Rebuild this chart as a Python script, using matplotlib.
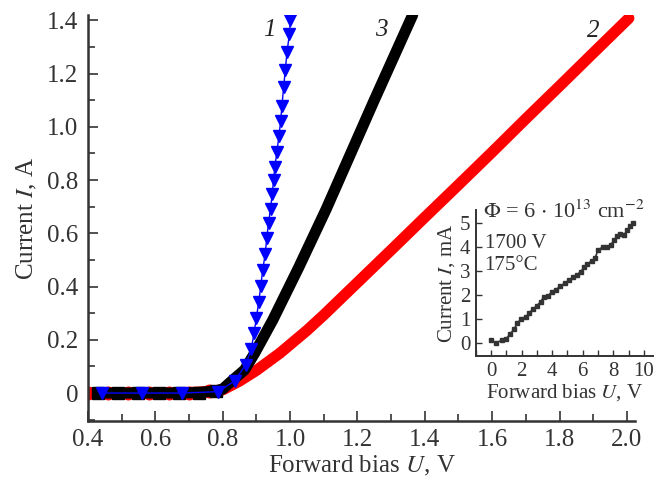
import numpy as np
import matplotlib
matplotlib.use("Agg")
import matplotlib.pyplot as plt
from matplotlib.ticker import MultipleLocator

plt.rcParams['font.family'] = ['Liberation Serif', 'DejaVu Serif']
plt.rcParams['mathtext.fontset'] = 'stix'

# curve 1 (blue triangles)
u1 = [0.441, 0.559, 0.678, 0.786, 0.836, 0.868, 0.885, 0.893, 0.900, 0.907, 0.913, 0.919,
      0.926, 0.931, 0.936, 0.942, 0.947, 0.951, 0.955, 0.961, 0.967, 0.972, 0.976, 0.981,
      0.986, 0.991, 0.998, 1.001]
i1 = [0, 0, 0, 0.005, 0.046, 0.106, 0.166, 0.225, 0.282, 0.342, 0.401, 0.464,
      0.521, 0.583, 0.638, 0.693, 0.747, 0.800, 0.850, 0.907, 0.965, 1.020, 1.080, 1.150,
      1.215, 1.282, 1.347, 1.401]

# curve 2 (red circles)
u2 = [0.40, 0.46, 0.52, 0.58, 0.64, 0.70, 0.76, 0.80, 0.85, 0.90, 0.97, 1.05, 1.10, 1.20,
      1.30, 1.40, 1.50, 1.60, 1.70, 1.80, 1.90, 2.006]
i2 = [0, 0, 0, 0, 0, 0.002, 0.006, 0.012, 0.045, 0.085, 0.15, 0.235, 0.293, 0.415,
      0.537, 0.66, 0.782, 0.905, 1.03, 1.153, 1.277, 1.408]

# curve 3 (black squares)
u3 = [0.43, 0.49, 0.55, 0.61, 0.67, 0.73, 0.78, 0.80, 0.83, 0.865, 0.895, 0.949, 1.025,
      1.107, 1.161, 1.250, 1.364]
i3 = [0, 0, 0, 0, 0, 0.002, 0.008, 0.015, 0.049, 0.087, 0.150, 0.275, 0.47,
      0.69, 0.845, 1.10, 1.42]

# inset data
u_in = [0.0, 0.33, 0.70, 0.98, 1.24, 1.50, 1.72, 1.94, 2.29, 2.50, 2.72, 2.98, 3.25, 3.46,
        3.75, 3.97, 4.25, 4.51, 4.84, 5.12, 5.38, 5.60, 5.86, 6.08, 6.30, 6.58, 6.80, 7.01,
        7.30, 7.56, 7.82, 8.04, 8.26, 8.43, 8.69, 8.91, 9.08, 9.30]
i_in = [0.10, 0.01, 0.10, 0.17, 0.36, 0.57, 0.82, 0.99, 1.10, 1.24, 1.40, 1.54, 1.72, 1.93,
        1.96, 2.14, 2.21, 2.38, 2.49, 2.63, 2.74, 2.83, 2.97, 3.15, 3.29, 3.43, 3.53, 3.90,
        3.99, 4.01, 4.08, 4.29, 4.46, 4.57, 4.50, 4.71, 4.88, 4.99]

fig = plt.figure(figsize=(6.59, 4.88), dpi=100)
ax = fig.add_axes([0.1335, 0.1373, 0.83, 0.832])

ax.plot(u2, i2, color='red', lw=8, marker='o', ms=9, markevery=list(range(7)),
        solid_capstyle='round', solid_joinstyle='round', zorder=2)
ax.plot(u3, i3, color='black', lw=8, marker='s', ms=8, markevery=list(range(7)),
        solid_capstyle='round', solid_joinstyle='round', zorder=3)
ax.plot(u1, i1, color='blue', lw=1, marker='v', ms=8, zorder=4)

ax.set_xlim(0.4, 2.024)
ax.set_ylim(-0.105, 1.42)
ax.xaxis.set_minor_locator(MultipleLocator(0.1))
ax.yaxis.set_minor_locator(MultipleLocator(0.1))
ax.set_xticks([0.4, 0.6, 0.8, 1.0, 1.2, 1.4, 1.6, 1.8, 2.0])
ax.set_xticklabels(['0.4', '0.6', '0.8', '1.0', '1.2', '1.4', '1.6', '1.8', '2.0'])
ax.set_yticks([0, 0.2, 0.4, 0.6, 0.8, 1.0, 1.2, 1.4])
ax.set_yticklabels(['0', '0.2', '0.4', '0.6', '0.8', '1.0', '1.2', '1.4'])
ax.tick_params(which='both', direction='in', labelsize=18, width=1.2, colors='#333333')
ax.tick_params(which='major', length=7)
ax.tick_params(which='minor', length=5)
ax.tick_params(axis='y', pad=7)
ax.tick_params(axis='x', pad=6)
for s in ['top', 'right']:
    ax.spines[s].set_visible(False)
for s in ['left', 'bottom']:
    ax.spines[s].set_linewidth(1.8)
    ax.spines[s].set_color('#333333')

ax.set_xlabel('Forward bias $\\mathit{U}$, V', fontsize=18, color='#333333', labelpad=2)
ax.set_ylabel('Current $\\mathit{I}$, A', fontsize=18, color='#333333', labelpad=6)

ax.text(0.939, 1.362, '1', fontsize=18, style='italic', ha='center', va='center', color='#222222')
ax.text(1.271, 1.362, '3', fontsize=18, style='italic', ha='center', va='center', color='#222222')
ax.text(1.899, 1.358, '2', fontsize=18, style='italic', ha='center', va='center', color='#222222')

# inset
ins = fig.add_axes([0.722, 0.2705, 0.269, 0.299])
ins.plot(u_in, i_in, color='#333333', lw=1.2, marker='s', ms=3.5)
ins.set_xlim(-1, 10.6)
ins.set_ylim(-0.55, 5.55)
ins.xaxis.set_major_locator(MultipleLocator(2))
ins.xaxis.set_minor_locator(MultipleLocator(1))
ins.yaxis.set_major_locator(MultipleLocator(1))
ins.tick_params(which='both', direction='in', labelsize=15, width=1, colors='#333333', length=4, pad=4)
for s in ['top', 'right']:
    ins.spines[s].set_visible(False)
for s in ['left', 'bottom']:
    ins.spines[s].set_linewidth(1.4)
    ins.spines[s].set_color('#333333')
ins.patch.set_alpha(0)
ins.set_xlabel('Forward bias $\\mathit{U}$, V', fontsize=15, color='#333333', labelpad=1)
ins.set_ylabel('Current $\\mathit{I}$, mA', fontsize=15, color='#333333', labelpad=2)
ins.text(0.04, 0.99, '$\\Phi$ = 6 $\\cdot$ 10$^{13}$ cm$^{-2}$', transform=ins.transAxes,
         fontsize=16, ha='left', va='center', color='#333333')
ins.text(0.05, 0.77, '1700 V', transform=ins.transAxes, fontsize=15, ha='left', va='center', color='#333333')
ins.text(0.05, 0.62, '175°C', transform=ins.transAxes, fontsize=15, ha='left', va='center', color='#333333')

fig.savefig('out.png', dpi=100)
